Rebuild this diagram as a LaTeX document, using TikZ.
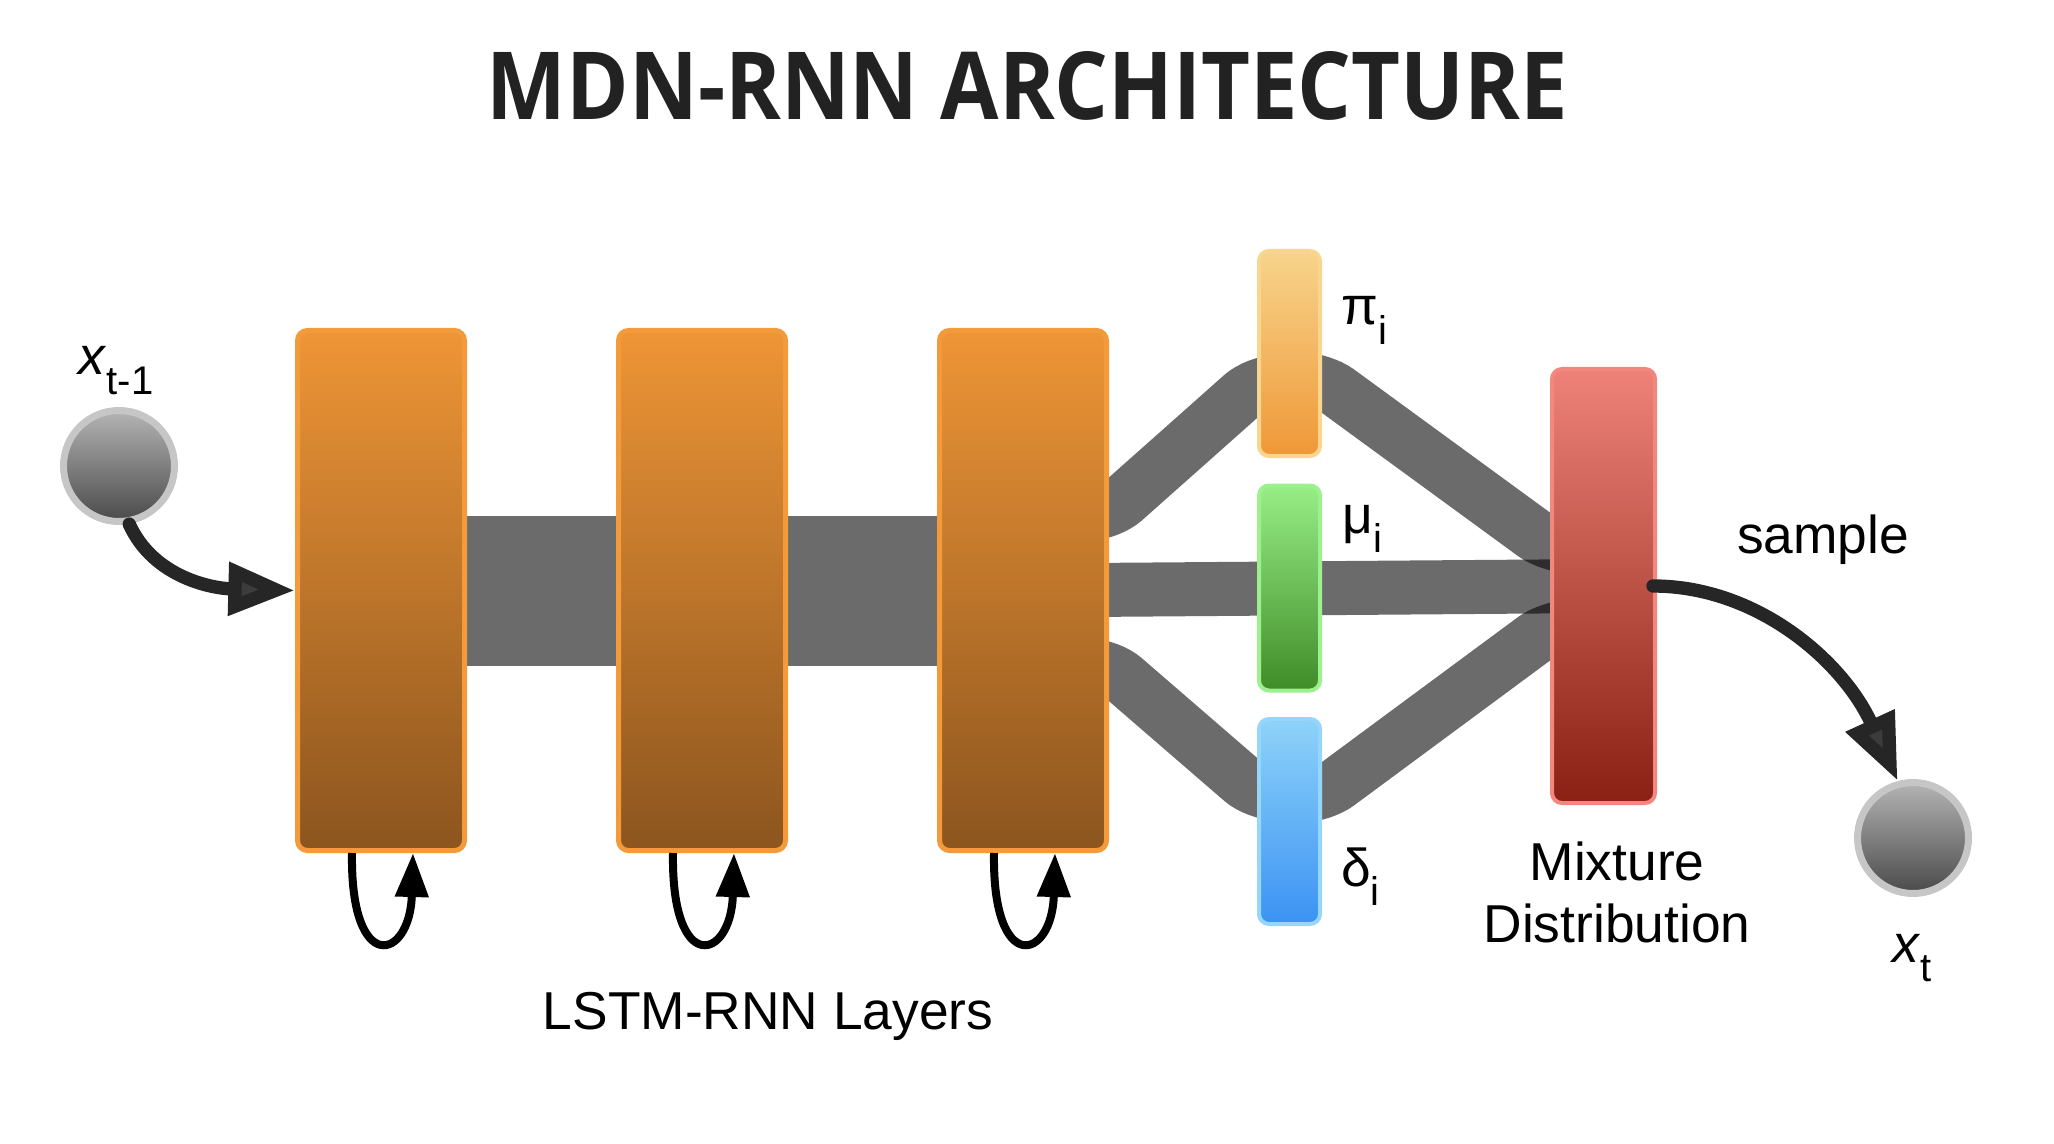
\documentclass[tikz,border=0pt]{standalone}
\usepackage{graphicx}
\usepackage{fontspec}
\setmainfont{Liberation Sans}
\newfontfamily\titlefont{Open Sans}
\usetikzlibrary{arrows.meta,calc}

\definecolor{lstmtop}{HTML}{EE9536}
\definecolor{lstmbot}{HTML}{8C551E}
\definecolor{lstmedge}{HTML}{F39B3B}
\definecolor{pitop}{HTML}{F7D48C}
\definecolor{pibot}{HTML}{EF9837}
\definecolor{piedge}{HTML}{F8D690}
\definecolor{mutop}{HTML}{98EE86}
\definecolor{mubot}{HTML}{3F8C28}
\definecolor{muedge}{HTML}{9CF08E}
\definecolor{dltop}{HTML}{8ED3F9}
\definecolor{dlbot}{HTML}{3B92F3}
\definecolor{dledge}{HTML}{95D6FA}
\definecolor{mixtop}{HTML}{EE8279}
\definecolor{mixbot}{HTML}{8A2013}
\definecolor{mixedge}{HTML}{F2877F}
\definecolor{rimgray}{HTML}{C6C6C6}
\definecolor{balltop}{HTML}{B4B4B4}
\definecolor{ballbot}{HTML}{4A4A4A}
\definecolor{flowgray}{HTML}{262626}
\definecolor{flowfill}{HTML}{3C3C3C}
\definecolor{titlegray}{HTML}{222222}

\pgfdeclarelayer{bg}
\pgfsetlayers{bg,main}

\newcommand{\lsub}[1]{\raisebox{-14.5pt}{\fontsize{30}{30}\selectfont #1}}

\tikzset{
  box/.style={rounded corners=7.5pt, line width=3pt, inner sep=0pt},
  lstm/.style={box, draw=lstmedge, top color=lstmtop, bottom color=lstmbot, line width=3.75pt, minimum width=125.25pt, minimum height=390pt},
  param/.style={box, minimum width=45.75pt, minimum height=153.75pt},
  mixbox/.style={box, draw=mixedge, top color=mixtop, bottom color=mixbot, minimum width=77.25pt, minimum height=325.5pt},
  obs/.style={circle, draw=rimgray, line width=5.25pt, top color=balltop, bottom color=ballbot, minimum size=83.25pt, inner sep=0pt},
  link/.style={draw=black, draw opacity=.58, line width=40.5pt, rounded corners=15pt},
  trunk/.style={draw=black, draw opacity=.58, line width=112.5pt},
  loopy/.style={draw=black, line width=6pt, -{Triangle[length=33pt,width=24pt]}},
  flow/.style={draw=flowgray, line width=10pt, line cap=round, -{Triangle[length=50pt,width=38pt,fill=flowfill]}},
  lbl/.style={inner sep=0pt, font=\fontsize{40}{46.5}\selectfont}
}

\begin{document}
\begin{tikzpicture}[x=0.75pt,y=0.75pt,yscale=-1,xscale=1]
\useasboundingbox (0,0) rectangle (2054,1144);

%Shape: LSTM layers
\node[lstm] (L1) at (381,590.5) {};
\node[lstm] (L2) at (702,590.5) {};
\node[lstm] (L3) at (1023,590.5) {};

%Shape: mixture parameters
\node[param, draw=piedge, top color=pitop, bottom color=pibot] (pi) at (1289.5,353.5) {};
\node[param, draw=muedge, top color=mutop, bottom color=mubot] (mu) at (1289.5,588) {};
\node[param, draw=dledge, top color=dltop, bottom color=dlbot] (dl) at (1289.5,821.5) {};

%Shape: mixture distribution
\node[mixbox] (mix) at (1603.5,586) {};

%Shape: input and output
\node[obs] (in) at (119,466) {};
\node[obs] (out) at (1913,838) {};

\begin{pgfonlayer}{bg}
%Straight Lines: hidden state
\draw[trunk] (L1) -- (L3);
%Straight Lines: to the parameters
\draw[link] ($(L3.east)+(-20,-77)$) -- ++(20,0) -- ($(pi.west)+(0,28.5)$) -- ++(20,0);
\draw[link] (L3) -- (mix);
\draw[link] ($(L3.east)+(-20,75)$) -- ++(20,0) -- ($(dl.west)+(0,-28)$) -- ++(20,0);
%Straight Lines: to the mixture
\draw[link] ($(pi.east)+(-20,26)$) -- ++(20,0) -- ($(mix.west)+(0,-40)$) -- ++(20,0);
\draw[link] ($(dl.east)+(-20,-26)$) -- ++(20,0) -- ($(mix.west)+(0,41)$) -- ++(20,0);
\end{pgfonlayer}

%Curve Lines: recurrence
\draw[loopy] ($(L1.south)+(-29,0)$) .. controls ($(L1.south)+(-31,123)$) and ($(L1.south)+(29,108)$) .. ($(L1.south)+(32,0)$);
\draw[loopy] ($(L2.south)+(-29,0)$) .. controls ($(L2.south)+(-31,123)$) and ($(L2.south)+(29,108)$) .. ($(L2.south)+(32,0)$);
\draw[loopy] ($(L3.south)+(-29,0)$) .. controls ($(L3.south)+(-31,123)$) and ($(L3.south)+(29,108)$) .. ($(L3.south)+(32,0)$);

%Curve Lines: input and sample
\draw[flow] (in.-80) .. controls ($(in.-80)+(25,55)$) and ($(L1.west)+(-80,-2)$) .. (L1.west);
\draw[flow] ($(mix.east)+(-4,0)$) .. controls ($(mix.east)+(100,0)$) and ($(out.105)+(-55,-120)$) .. (out.105);

% Text Node
\node[anchor=base, inner sep=0pt, text=titlegray] (title) at (1027.5,120) {\resizebox{810.75pt}{51pt}{\titlefont\bfseries MDN-RNN ARCHITECTURE}};
% Text Node
\node[lbl, anchor=base] (xin) at (116,375) {\textit{x}\lsub{t-1}};
% Text Node
\node[lbl, anchor=base] (xout) at (1912,962) {\textit{x}\lsub{t}};
% Text Node
\node[lbl, anchor=base west] (pilbl) at (1341,325) {π\lsub{i}};
% Text Node
\node[lbl, anchor=base west] (mulbl) at (1342,533) {μ\lsub{i}};
% Text Node
\node[lbl, anchor=base west] (dllbl) at (1341,886) {δ\lsub{i}};
% Text Node
\node[lbl, anchor=base] (smp) at (1823,553) {sample};
% Text Node
\node[lbl, align=center] (mixlbl) at (1617,892) {Mixture\\Distribution};
% Text Node
\node[lbl, anchor=base] (layers) at (768,1029) {LSTM-RNN Layers};

\end{tikzpicture}
\end{document}
